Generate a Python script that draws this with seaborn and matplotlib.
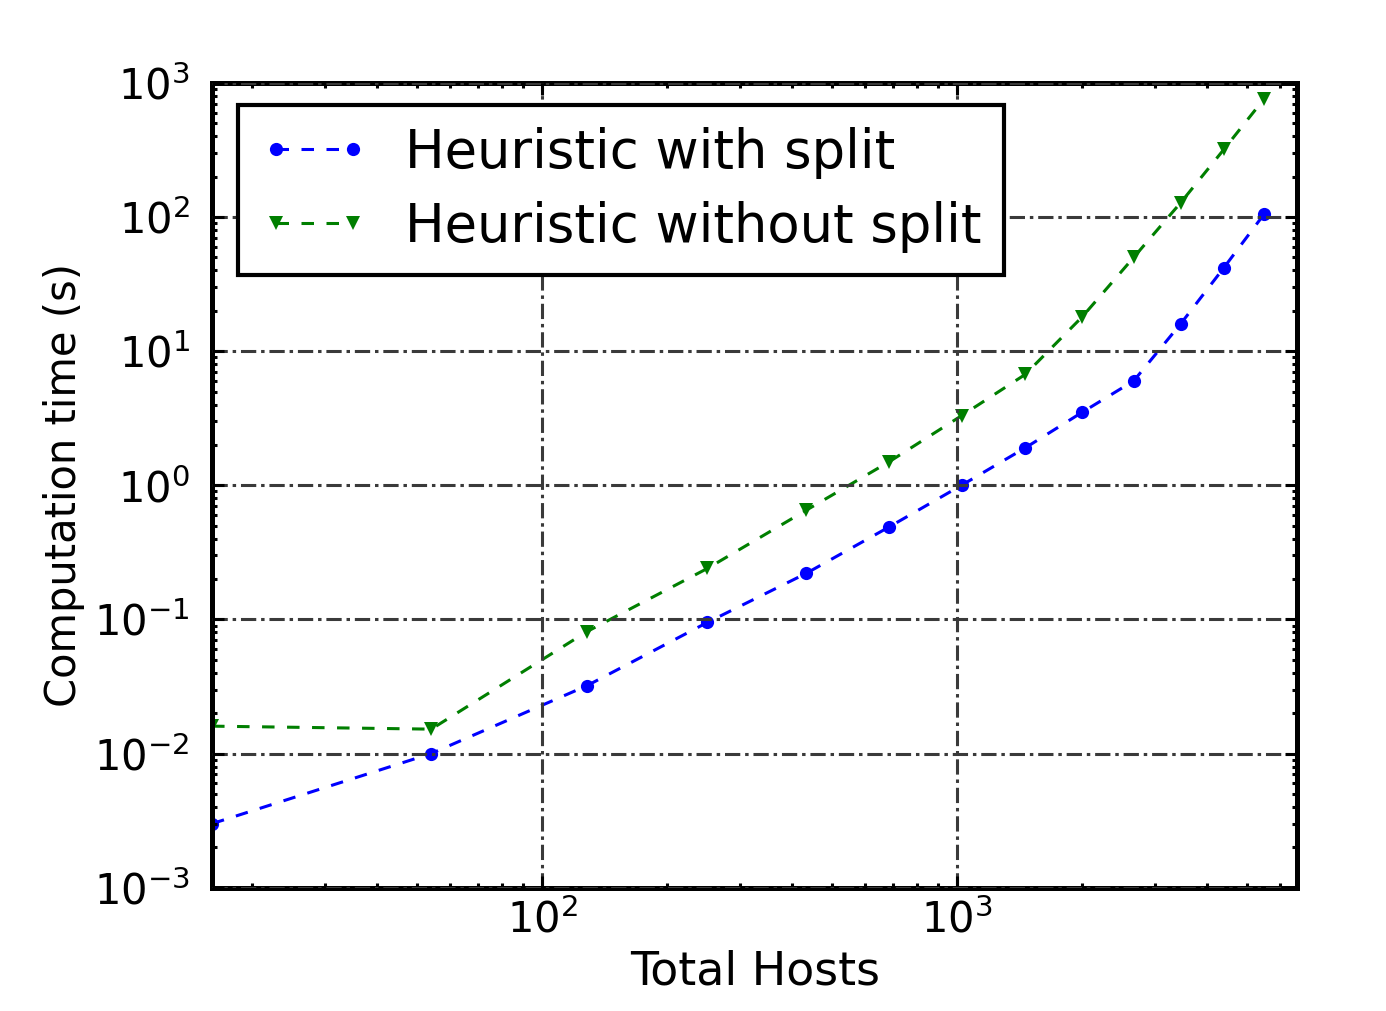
import numpy as np
import pandas as pd
import matplotlib
matplotlib.use("Agg")
import matplotlib.pyplot as plt
from matplotlib.ticker import NullFormatter
import seaborn as sns

# Fat-tree sizes (k^3/4 hosts for k = 4, 6, ..., 28)
total_hosts = [16, 54, 128, 250, 432, 686, 1024, 1458, 2000, 2662, 3456, 4394, 5488]

# Computation time in seconds
time_with_split = [0.0030, 0.0100, 0.032, 0.095, 0.22, 0.49, 1.0, 1.9, 3.5, 6.0, 16.0, 42.0, 105.0]
time_without_split = [0.0160, 0.0152, 0.081, 0.24, 0.65, 1.5, 3.3, 6.7, 18.0, 50.0, 128.0, 320.0, 760.0]

label_with = "Heuristic with split"
label_without = "Heuristic without split"

x_major_ticks = [1e2, 1e3]
y_major_ticks = [1e-3, 1e-2, 1e-1, 1e0, 1e1, 1e2, 1e3]

sns.set_style("white")
plt.rcParams["font.family"] = ["DejaVu Sans"]
plt.rcParams["mathtext.default"] = "regular"
plt.rcParams["lines.scale_dashes"] = False
for key in ("text.color", "axes.labelcolor", "xtick.color", "ytick.color"):
    plt.rcParams[key] = "black"

df = pd.concat([
    pd.DataFrame({"hosts": total_hosts, "time": time_with_split, "method": label_with}),
    pd.DataFrame({"hosts": total_hosts, "time": time_without_split, "method": label_without}),
])

fig = plt.figure(figsize=(13.86, 10.11), dpi=100)
ax = fig.add_axes([0.153, 0.122, 0.783, 0.796])

line_dash = (0, (9, 9))
sns.lineplot(data=df[df.method == label_with], x="hosts", y="time", ax=ax,
             color="#0000ff", marker="o", markersize=9.5, markeredgewidth=0,
             linewidth=2.2, label=label_with, estimator=None)
sns.lineplot(data=df[df.method == label_without], x="hosts", y="time", ax=ax,
             color="#007f00", marker="v", markersize=10.5, markeredgewidth=0,
             linewidth=2.2, label=label_without, estimator=None)
for ln in ax.get_lines():
    ln.set_linestyle(line_dash)

ax.set_xscale("log")
ax.set_yscale("log")
ax.set_xticks(x_major_ticks)
ax.set_yticks(y_major_ticks)
ax.set_xlim(16, 6600)
ax.set_ylim(1e-3, 1e3)
ax.xaxis.set_minor_formatter(NullFormatter())
ax.yaxis.set_minor_formatter(NullFormatter())

ax.grid(True, which="major", color="#3a3a3a", linewidth=2.2,
        linestyle=(0, (11, 3.5, 2.5, 3.5)))
ax.set_axisbelow(False)

for side in ax.spines.values():
    side.set_linewidth(3.6)
    side.set_color("black")

ax.tick_params(which="both", direction="in", top=True, right=True,
               bottom=True, left=True, color="black")
ax.tick_params(which="major", length=8.5, width=2.2, labelsize=30)
ax.tick_params(which="minor", length=3.8, width=2.2)
ax.tick_params(axis="y", which="major", pad=16)
ax.tick_params(axis="x", which="major", pad=8)

ax.set_xlabel("Total Hosts", fontsize=33, labelpad=6)
ax.set_ylabel("Computation time (s)", fontsize=30, labelpad=6)

leg = ax.legend(loc="upper left", bbox_to_anchor=(0.024, 0.973), borderaxespad=0,
                fontsize=38, numpoints=2, handlelength=2.05, handletextpad=0.7,
                borderpad=0.42, labelspacing=0.42, fancybox=False, framealpha=1)
leg.get_frame().set_edgecolor("black")
leg.get_frame().set_linewidth(3.0)
for h in leg.get_lines():
    h.set_linestyle(line_dash)

fig.savefig("out.png", dpi=100, facecolor="white")
